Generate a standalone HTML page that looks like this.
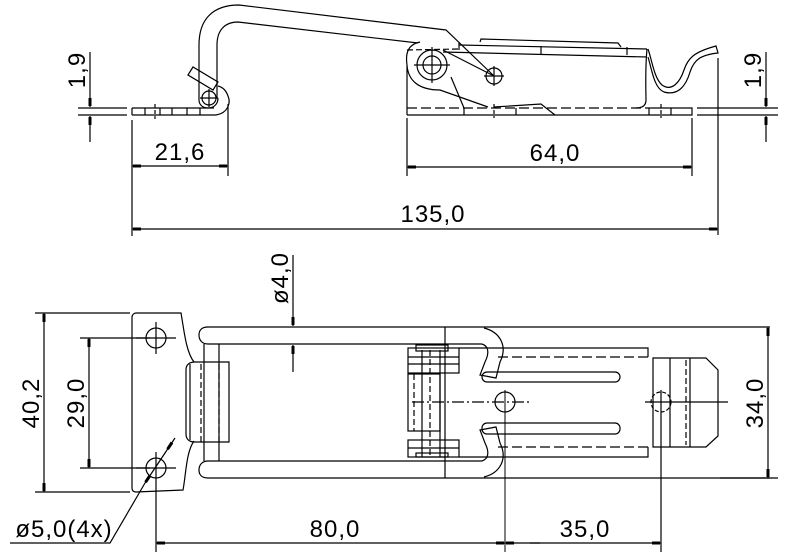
<!DOCTYPE html>
<html><head><meta charset="utf-8"><style>
html,body{margin:0;padding:0;background:#fff}
svg{display:block}
text{font-family:"Liberation Sans",sans-serif;font-size:24px;fill:#000;letter-spacing:1px}
</style></head><body>
<svg width="788" height="558" viewBox="0 0 788 558" xmlns="http://www.w3.org/2000/svg">
<defs>
<marker id="a" markerUnits="userSpaceOnUse" viewBox="0 0 10 4" refX="10" refY="2" markerWidth="10" markerHeight="4" orient="auto-start-reverse">
<rect x="1" y="0.5" width="8" height="3" fill="#000"/>
</marker>
</defs>
<g fill="none" stroke="#000" stroke-width="1.2">
<!-- ===== TOP VIEW ===== -->
<line x1="78" y1="108" x2="127" y2="108"/><line x1="78" y1="115" x2="127" y2="115"/>
<path d="M132 108 L214 108 M132 115 L216 115 M132 108 L132 115"/>
<path d="M145 108v7M160 108v7M172 108v7M187 108v7M200 108v7"/>
<line x1="155" y1="104" x2="155" y2="119" stroke-dasharray="4 2"/>
<path d="M216 115 C228 113 231 103 228 96 C226 90 222 87 218 86"/>
<path d="M199 100 C199 104 202 108 208 108 C214 108 218 104 218 98"/>
<path d="M199 100 L199 45 C199 20 212 5 239 5 L446 30 L494 76"/>
<path d="M217 98 L217 45 C217 30 225 22 238 22 L418 43"/>
<circle cx="209" cy="98" r="7"/>
<path d="M200 98h18M209 89v18"/>
<path d="M188 75 L193 67 L218 82 L213 90 Z"/>
<circle cx="432" cy="65" r="15"/><circle cx="432" cy="65" r="9"/>
<path d="M414 65h36M432 47v36"/>
<path d="M420 42 C405 45 406 58 407 65 L407 115 M407 65 C408 80 418 90 440 90 L488 107"/>
<path d="M407 50 L459 49" stroke-dasharray="6 3"/>
<path d="M443 50 L494 76"/>
<path d="M451 77 L464 108"/>
<circle cx="494" cy="76" r="8"/>
<path d="M484 76h20M494 66v20"/>
<path d="M407 108 L648 108" stroke-dasharray="10 4"/>
<path d="M407 115 L692 115 L692 108 L648 108"/>
<path d="M464 108v7M516 108v7M649 108v7M671 108v7"/>
<path d="M494 104v14M661 104v14" stroke-dasharray="4 2"/>
<path d="M494 107 L541 104 L555 115"/>
<path d="M480 42 L481 39 L618 43 L621 47"/>
<path d="M459 45 L647 49"/>
<path d="M443 52 L647 57"/>
<path d="M459 42v8M541 46v8M627 47v8"/>
<path d="M647 49 C645 70 646 95 646 100 C646 106 642 108 636 108"/>
<path d="M648 49 C652 60 654 78 662 85 C672 92 680 82 684 70 C688 58 694 52 716 46 L718 53 C700 55 694 60 690 72 C686 86 678 96 664 92 C654 88 652 70 648 57"/>
<line x1="697" y1="108" x2="778" y2="108"/><line x1="697" y1="115" x2="778" y2="115"/>
<line x1="718" y1="58" x2="718" y2="235"/>
<line x1="90" y1="52" x2="90" y2="107" marker-end="url(#a)"/>
<line x1="90" y1="142" x2="90" y2="116" marker-end="url(#a)"/>
<line x1="766" y1="52" x2="766" y2="107" marker-end="url(#a)"/>
<line x1="766" y1="142" x2="766" y2="116" marker-end="url(#a)"/>
<line x1="132" y1="120" x2="132" y2="236"/>
<line x1="228" y1="104" x2="228" y2="176"/>
<line x1="132" y1="166" x2="228" y2="166" marker-start="url(#a)" marker-end="url(#a)"/>
<line x1="407" y1="118" x2="407" y2="176"/>
<line x1="692" y1="118" x2="692" y2="176"/>
<line x1="407" y1="167" x2="692" y2="167" marker-start="url(#a)" marker-end="url(#a)"/>
<line x1="132" y1="229" x2="718" y2="229" marker-start="url(#a)" marker-end="url(#a)"/>

<!-- ===== BOTTOM VIEW ===== -->
<path d="M136 313 L181 313 C184 330 186 352 194 362 M194 441 C186 452 186 475 183 490 L136 492 C133 492 132 490 132 488 L132 317 C132 315 134 313 136 313"/>
<circle cx="156" cy="338" r="10"/><circle cx="156" cy="468" r="10"/>
<path d="M136 338h40M156 322v32M136 468h40M156 452v100"/>
<path d="M195 362 L229 362 L229 442 L195 442 C189 442 186 439 186 434 L186 370 C186 365 189 362 195 362"/>
<path d="M190 364 L190 440"/>
<path d="M201 364v78M219 364v78" stroke-dasharray="6 3"/>
<path d="M770 327 L208 327 C201 327 199 331 199 335 C199 340 202 344 208 344 L482 344"/>
<path d="M770 478 L208 478 C201 478 199 474 199 470 C199 465 202 461 208 461 L482 461"/>
<path d="M204 344 L204 461 M219 344 L219 461"/>
<path d="M484 328 C500 332 508 346 500 362 L496 378 L480 375 L485 362 C490 352 488 346 482 344"/>
<path d="M484 477 C500 473 508 459 500 443 L496 427 L480 430 L485 443 C490 453 488 459 482 461"/>
<path d="M445 327v151"/>
<rect x="408" y="348" width="51" height="25"/>
<path d="M408 357h51M408 364h51"/>
<rect x="408" y="374" width="32" height="57"/>
<rect x="408" y="440" width="51" height="17"/>
<path d="M408 448h51"/>
<rect x="416" y="345" width="32" height="6"/>
<rect x="416" y="453" width="32" height="4"/>
<path d="M422 350v107M440 350v107"/>
<path d="M414 374v57M430 350v107" stroke-dasharray="6 3"/>
<path d="M459 348 L648 348 L648 357 M648 447 L648 457 L459 457"/>
<path d="M498 357 L648 357 M498 447 L648 447" stroke-dasharray="10 4"/>
<rect x="482" y="372" width="138" height="10" rx="5"/>
<rect x="482" y="423" width="138" height="11" rx="5"/>
<circle cx="505" cy="402" r="10"/>
<path d="M412 402 L530 402" stroke-dasharray="12 3 2 3"/>
<path d="M505 390v162" stroke-width="1"/>
<path d="M653 358 L706 358 L718 370 L718 436 L706 447 L653 447 Z"/>
<path d="M670 358v89M690 358v89"/>
<path d="M686 360v85" stroke-dasharray="6 3"/>
<circle cx="661" cy="402" r="10" stroke-dasharray="4 2"/>
<path d="M645 402h83M661 390v162"/>
<line x1="35" y1="313" x2="130" y2="313"/>
<line x1="35" y1="492" x2="130" y2="492"/>
<line x1="44" y1="313" x2="44" y2="492" marker-start="url(#a)" marker-end="url(#a)"/>
<line x1="80" y1="338" x2="150" y2="338"/>
<line x1="80" y1="468" x2="150" y2="468"/>
<line x1="89" y1="338" x2="89" y2="468" marker-start="url(#a)" marker-end="url(#a)"/>
<line x1="293" y1="255" x2="293" y2="326" marker-end="url(#a)"/>
<line x1="293" y1="372" x2="293" y2="345" marker-end="url(#a)"/>
<line x1="720" y1="478" x2="778" y2="478"/>
<line x1="768" y1="327" x2="768" y2="478" marker-start="url(#a)" marker-end="url(#a)"/>
<line x1="156" y1="543" x2="505" y2="543" marker-start="url(#a)" marker-end="url(#a)"/>
<line x1="530" y1="543" x2="661" y2="543" marker-end="url(#a)"/>
<line x1="540" y1="543" x2="505" y2="543" marker-end="url(#a)"/>
<path d="M10 543 L110 543 L145 483"/>
<line x1="145" y1="483" x2="167" y2="450" marker-start="url(#a)"/>
<line x1="167" y1="450" x2="175" y2="438" marker-start="url(#a)"/>
</g>
<text x="180" y="160" text-anchor="middle">21,6</text>
<text x="555" y="161" text-anchor="middle">64,0</text>
<text x="433" y="222" text-anchor="middle">135,0</text>
<text transform="translate(90,70) rotate(-90)" text-anchor="middle" dy="-5">1,9</text>
<text transform="translate(766,70) rotate(-90)" text-anchor="middle" dy="-5">1,9</text>
<text transform="translate(44,403) rotate(-90)" text-anchor="middle" dy="-5">40,2</text>
<text transform="translate(89,403) rotate(-90)" text-anchor="middle" dy="-5">29,0</text>
<text transform="translate(293,278) rotate(-90)" text-anchor="middle" dy="-5">ø4,0</text>
<text transform="translate(768,403) rotate(-90)" text-anchor="middle" dy="-5">34,0</text>
<text x="335" y="537" text-anchor="middle">80,0</text>
<text x="585" y="537" text-anchor="middle">35,0</text>
<text x="64" y="537" text-anchor="middle">ø5,0(4x)</text>
</svg>
</body></html>
